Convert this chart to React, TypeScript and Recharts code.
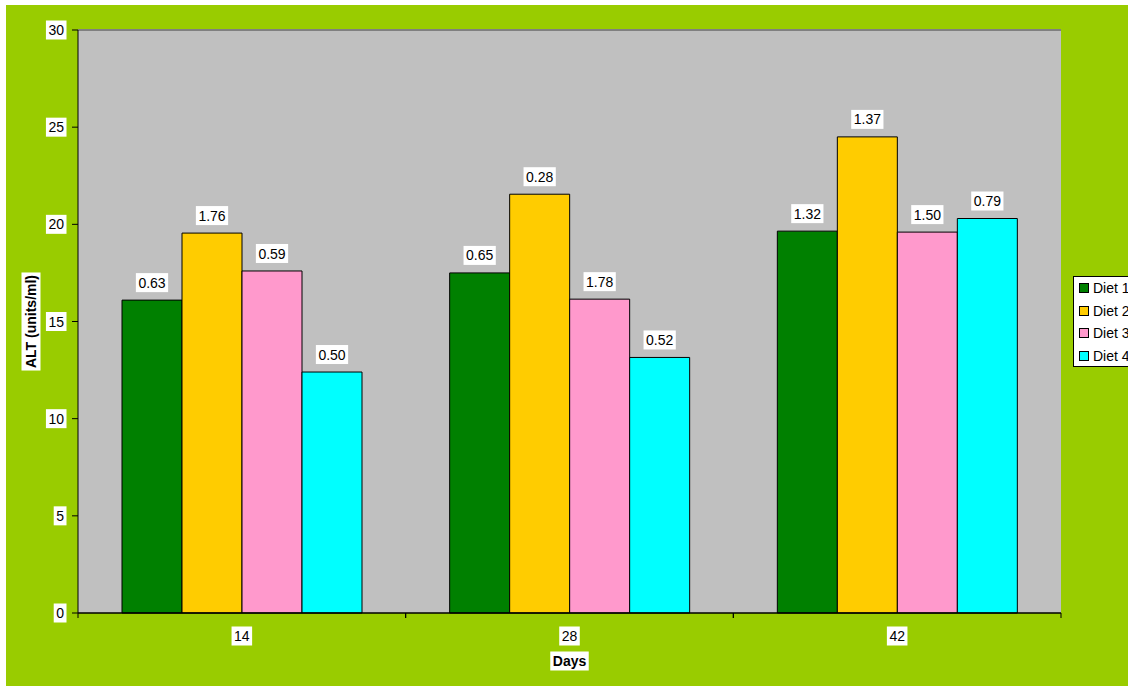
import React from "react";
import {
  BarChart,
  Bar,
  XAxis,
  YAxis,
  CartesianGrid,
  LabelList,
  ReferenceLine,
} from "recharts";

// ALT by day and diet, with the error values printed above each bar
const days = ["14", "28", "42"];
const dietNames = ["Diet 1", "Diet 2", "Diet 3", "Diet 4"];
const diet1 = [16.1, 17.5, 19.65];
const diet2 = [19.55, 21.55, 24.5];
const diet3 = [17.6, 16.15, 19.6];
const diet4 = [12.4, 13.15, 20.3];
const diet1Err = ["0.63", "0.65", "1.32"];
const diet2Err = ["1.76", "0.28", "1.37"];
const diet3Err = ["0.59", "1.78", "1.50"];
const diet4Err = ["0.50", "0.52", "0.79"];
const yTicks = [0, 5, 10, 15, 20, 25, 30];

const colors = ["#008000", "#FFCC00", "#FF99CC", "#00FFFF"];
const FONT = "'Liberation Sans', Arial, sans-serif";
const FS = 14;

const W = 1122;
const H = 681;
const MARGIN = { top: 25, right: 67, bottom: 0, left: 0 };
const Y_AXIS_W = 72;
const X_AXIS_H = 73;
const HALF_BAND = (W - MARGIN.left - MARGIN.right - Y_AXIS_W) / days.length / 2;

const data = days.map((day, i) => ({
  day,
  d1: diet1[i],
  d2: diet2[i],
  d3: diet3[i],
  d4: diet4[i],
  e1: diet1Err[i],
  e2: diet2Err[i],
  e3: diet3Err[i],
  e4: diet4Err[i],
}));

let ctx: CanvasRenderingContext2D | null = null;
function textWidth(t: string, bold = false) {
  if (!ctx) ctx = document.createElement("canvas").getContext("2d");
  if (!ctx) return t.length * FS * 0.55;
  ctx.font = `${bold ? "bold " : ""}${FS}px ${FONT}`;
  return ctx.measureText(t).width;
}

// text with a white box behind it, centred on (cx, cy)
function BoxedText({ cx, cy, text, bold = false, rotate = false }: any) {
  const w = textWidth(text, bold) + 5;
  const h = bold ? 19 : 19;
  return (
    <g transform={rotate ? `rotate(-90 ${cx} ${cy})` : undefined}>
      <rect x={cx - w / 2} y={cy - h / 2} width={w} height={h} fill="#fff" />
      <text
        x={cx}
        y={cy}
        dy="0.36em"
        textAnchor="middle"
        fontFamily={FONT}
        fontSize={FS}
        fontWeight={bold ? "bold" : "normal"}
        fill="#000"
      >
        {text}
      </text>
    </g>
  );
}

function YTick({ x, y, payload }: any) {
  const t = String(payload.value);
  const w = textWidth(t);
  return <BoxedText cx={x - w / 2} cy={y} text={t} />;
}

function XTick({ x, y, payload }: any) {
  return (
    <g>
      <line x1={x - HALF_BAND} x2={x - HALF_BAND} y1={y} y2={y + 5} stroke="#000" />
      <line x1={x + HALF_BAND} x2={x + HALF_BAND} y1={y} y2={y + 5} stroke="#000" />
      <BoxedText cx={x} cy={y + 23} text={String(payload.value)} />
    </g>
  );
}

function ErrLabel({ x, y, width, value }: any) {
  return <BoxedText cx={x + width / 2} cy={y - 17.5} text={String(value)} />;
}

function Legend() {
  return (
    <div
      style={{
        position: "absolute",
        left: 1067,
        top: 271,
        width: 70,
        height: 91,
        background: "#fff",
        border: "1px solid #000",
        fontFamily: FONT,
        fontSize: FS,
        boxSizing: "border-box",
      }}
    >
      {dietNames.map((n, i) => (
        <div key={n} style={{ height: 22.5, display: "flex", alignItems: "center", paddingLeft: 5 }}>
          <span
            style={{
              display: "inline-block",
              width: 10,
              height: 10,
              background: colors[i],
              border: "1px solid #000",
              boxSizing: "border-box",
              marginRight: 4,
            }}
          />
          <span style={{ whiteSpace: "nowrap" }}>{n}</span>
        </div>
      ))}
    </div>
  );
}

export default function App() {
  const keys = ["d1", "d2", "d3", "d4"];
  const errKeys = ["e1", "e2", "e3", "e4"];
  return (
    <div
      style={{
        position: "fixed",
        left: 6,
        top: 5,
        width: W,
        height: H,
        background: "#99CC00",
        overflow: "hidden",
      }}
    >
      <BarChart width={W} height={H} data={data} margin={MARGIN} barCategoryGap={44} barGap={0}>
        <CartesianGrid fill="#C0C0C0" horizontal={false} vertical={false} />
        <XAxis
          dataKey="day"
          height={X_AXIS_H}
          tickLine={false}
          tickSize={0}
          tickMargin={0}
          axisLine={{ stroke: "#000", strokeWidth: 1.5 }}
          tick={<XTick />}
          interval={0}
          label={{
            content: ({ viewBox }: any) => (
              <BoxedText cx={viewBox.x + viewBox.width / 2} cy={viewBox.y + 48} text="Days" bold />
            ),
          }}
        />
        <YAxis
          width={Y_AXIS_W}
          domain={[0, 30]}
          ticks={yTicks}
          tickSize={6}
          tickMargin={8}
          tickLine={{ stroke: "#000" }}
          axisLine={{ stroke: "#000" }}
          tick={<YTick />}
          label={{
            content: ({ viewBox }: any) => (
              <BoxedText
                cx={viewBox.x + 25}
                cy={viewBox.y + viewBox.height / 2}
                text="ALT (units/ml)"
                bold
                rotate
              />
            ),
          }}
        />
        <YAxis
          yAxisId="right"
          orientation="right"
          width={0}
          domain={[0, 30]}
          tick={false}
          tickLine={false}
          axisLine={{ stroke: "#808080", strokeWidth: 2 }}
        />
        <ReferenceLine y={30} stroke="#808080" strokeWidth={2} />
        {keys.map((k, i) => (
          <Bar
            key={k}
            dataKey={k}
            name={dietNames[i]}
            fill={colors[i]}
            stroke="#000"
            strokeWidth={1}
            isAnimationActive={false}
          >
            <LabelList dataKey={errKeys[i]} content={<ErrLabel />} />
          </Bar>
        ))}
      </BarChart>
      <Legend />
    </div>
  );
}
